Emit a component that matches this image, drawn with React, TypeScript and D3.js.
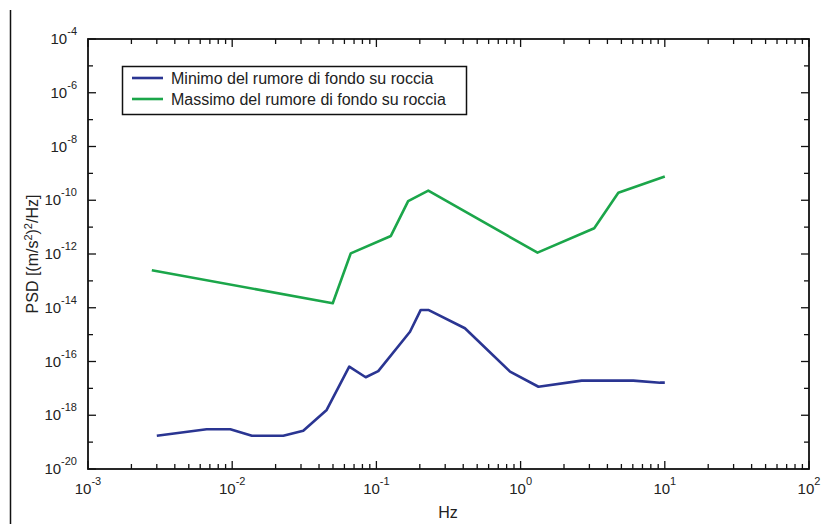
import React from "react";
import * as d3 from "d3";

const minFreq = [0.003, 0.00665, 0.0097, 0.0137, 0.0226, 0.0311, 0.0452, 0.0648, 0.0843, 0.103, 0.171, 0.203, 0.229, 0.411, 0.845, 1.33, 2.65, 6.05, 9.27, 10];
const minPsd = [1.73e-19, 3.0e-19, 3.0e-19, 1.73e-19, 1.73e-19, 2.66e-19, 1.58e-18, 6.4e-17, 2.6e-17, 4.4e-17, 1.28e-15, 8.3e-15, 8.3e-15, 1.73e-15, 4.2e-17, 1.15e-17, 1.94e-17, 1.94e-17, 1.63e-17, 1.63e-17];

const maxFreq = [0.00277, 0.0498, 0.0664, 0.126, 0.166, 0.229, 1.31, 3.24, 4.76, 10];
const maxPsd = [2.5e-13, 1.47e-14, 1.06e-12, 4.7e-12, 9.3e-11, 2.27e-10, 1.12e-12, 9.1e-12, 1.9e-10, 7.6e-10];

const xExponents = [-3, -2, -1, 0, 1, 2];
const yExponents = [-20, -18, -16, -14, -12, -10, -8, -6, -4];
const seriesNames = ["Minimo del rumore di fondo su roccia", "Massimo del rumore di fondo su roccia"];

const W = 827;
const H = 524;
const L = 88, R = 809, T = 39, B = 469;
const BLUE = "#2a3592";
const GREEN = "#1ba64a";
const FONT = "Liberation Sans, Arial, sans-serif";

export default function App() {
  const x = d3.scaleLog().domain([1e-3, 1e2]).range([L, R]);
  const y = d3.scaleLog().domain([1e-20, 1e-4]).range([B, T]);
  const line = d3.line<[number, number]>().x(d => x(d[0])).y(d => y(d[1]));
  const minPts = minFreq.map((f, i) => [f, minPsd[i]] as [number, number]);
  const maxPts = maxFreq.map((f, i) => [f, maxPsd[i]] as [number, number]);

  const xMinor: number[] = [];
  for (let e = -3; e < 2; e++) for (let m = 2; m <= 9; m++) xMinor.push(m * Math.pow(10, e));
  const yMinor: number[] = [];
  for (let e = -19; e <= -5; e += 2) yMinor.push(Math.pow(10, e));

  const ticks: JSX.Element[] = [];
  xExponents.forEach((e, i) => {
    const px = x(Math.pow(10, e));
    ticks.push(<line key={"xb" + i} x1={px} x2={px} y1={B} y2={B - 8} />);
    ticks.push(<line key={"xt" + i} x1={px} x2={px} y1={T} y2={T + 8} />);
  });
  xMinor.forEach((v, i) => {
    const px = x(v);
    ticks.push(<line key={"xmb" + i} x1={px} x2={px} y1={B} y2={B - 5} />);
    ticks.push(<line key={"xmt" + i} x1={px} x2={px} y1={T} y2={T + 5} />);
  });
  yExponents.forEach((e, i) => {
    const py = y(Math.pow(10, e));
    ticks.push(<line key={"yl" + i} x1={L} x2={L + 8} y1={py} y2={py} />);
    ticks.push(<line key={"yr" + i} x1={R} x2={R - 8} y1={py} y2={py} />);
  });
  yMinor.forEach((v, i) => {
    const py = y(v);
    ticks.push(<line key={"yml" + i} x1={L} x2={L + 5} y1={py} y2={py} />);
    ticks.push(<line key={"ymr" + i} x1={R} x2={R - 5} y1={py} y2={py} />);
  });

  return (
    <svg width={W} height={H} style={{ position: "absolute", left: 0, top: 0, background: "#fff" }} fontFamily={FONT}>
      <rect x={0} y={0} width={W} height={H} fill="#fff" />
      <line x1={10.5} x2={10.5} y1={10} y2={H} stroke="#111" strokeWidth={1.5} />
      <g stroke="#111" strokeWidth={1.3}>{ticks}</g>
      <rect x={L} y={T} width={R - L} height={B - T} fill="none" stroke="#111" strokeWidth={1.8} />
      <path d={line(maxPts) || ""} fill="none" stroke={GREEN} strokeWidth={2.6} strokeLinejoin="round" />
      <path d={line(minPts) || ""} fill="none" stroke={BLUE} strokeWidth={2.6} strokeLinejoin="round" />
      {xExponents.map((e, i) => (
        <text key={"xl" + i} x={x(Math.pow(10, e))} y={494} textAnchor="middle" fontSize={15} fill="#222">
          <tspan>10</tspan>
          <tspan dy={-9} fontSize={11}>{String(e)}</tspan>
        </text>
      ))}
      {yExponents.map((e, i) => (
        <text key={"yl" + i} x={77} y={y(Math.pow(10, e)) + 5} textAnchor="end" fontSize={15} fill="#222">
          <tspan>10</tspan>
          <tspan dy={-9} fontSize={11}>{String(e)}</tspan>
        </text>
      ))}
      <text x={448} y={518} textAnchor="middle" fontSize={16} fill="#222">Hz</text>
      <text transform={`translate(38,${(T + B) / 2}) rotate(-90)`} textAnchor="middle" fontSize={16} fill="#222">
        <tspan>PSD [(m/s</tspan>
        <tspan dy={-6} fontSize={11}>2</tspan>
        <tspan dy={6}>)</tspan>
        <tspan dy={-6} fontSize={11}>2</tspan>
        <tspan dy={6}>/Hz]</tspan>
      </text>
      <rect x={122.5} y={66.5} width={344} height={48} fill="#fff" stroke="#111" strokeWidth={1.5} />
      <line x1={132} x2={163} y1={78} y2={78} stroke={BLUE} strokeWidth={2.6} />
      <line x1={132} x2={163} y1={99} y2={99} stroke={GREEN} strokeWidth={2.6} />
      <text x={171} y={83.5} fontSize={16} fill="#222">{seriesNames[0]}</text>
      <text x={171} y={105} fontSize={16} fill="#222">{seriesNames[1]}</text>
    </svg>
  );
}
